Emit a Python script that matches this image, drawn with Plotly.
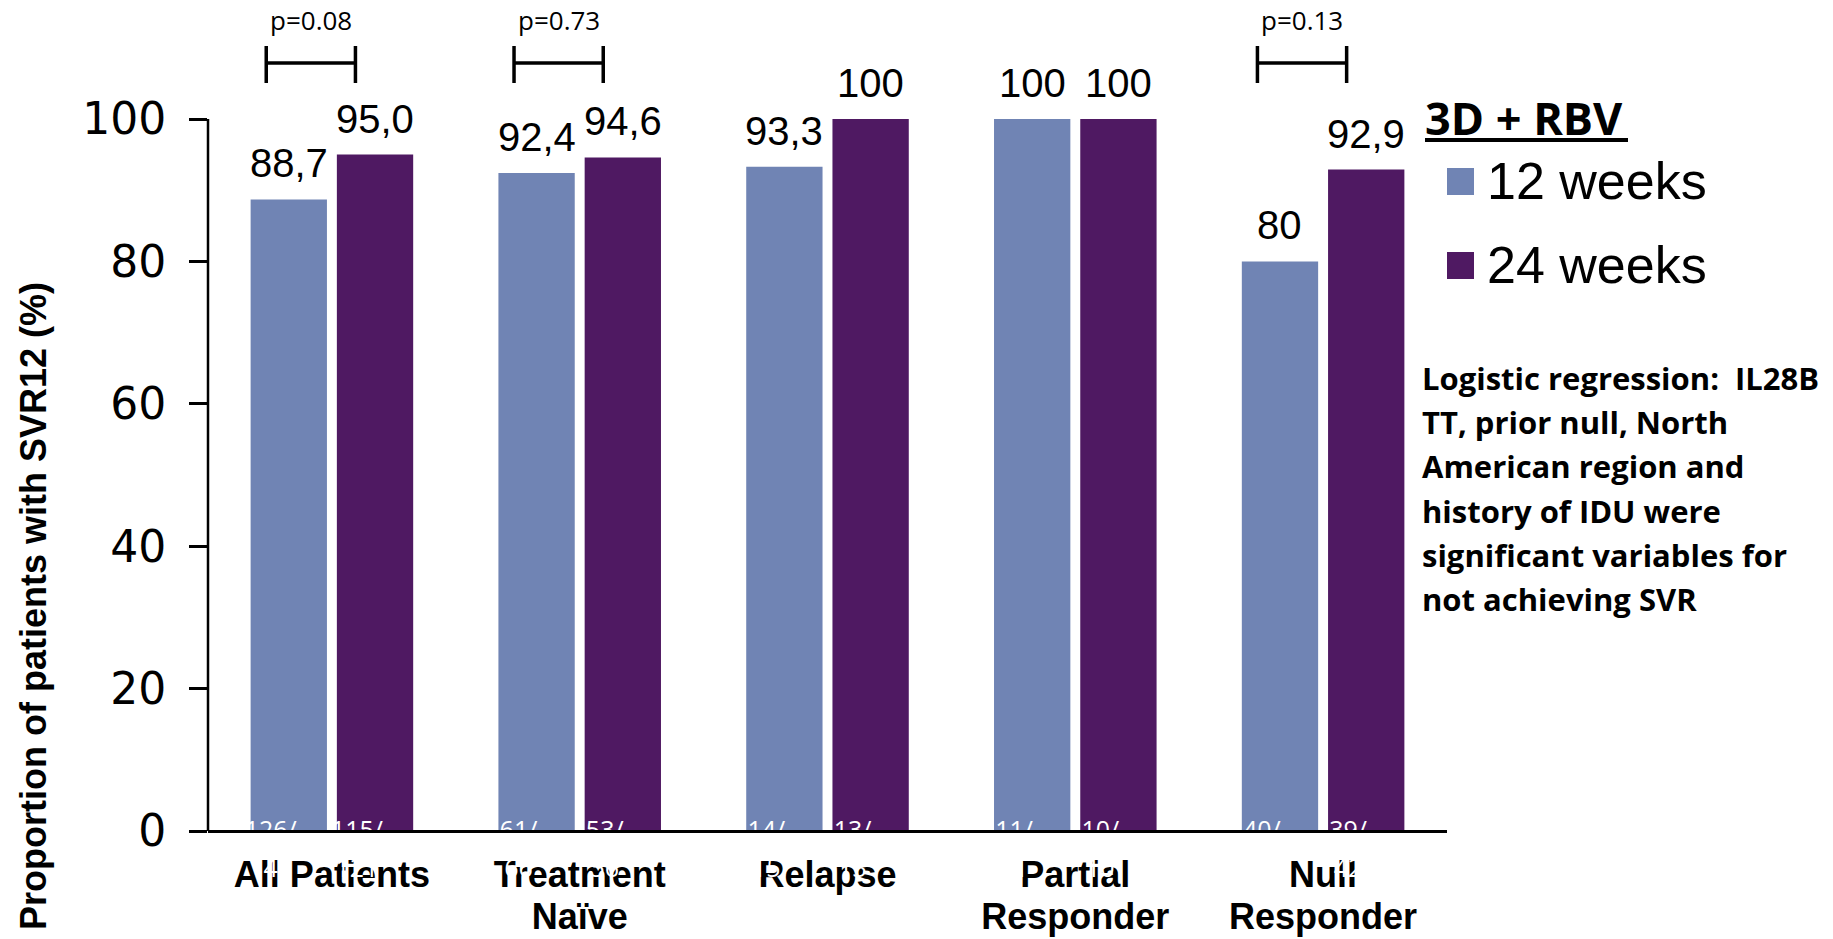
import plotly.graph_objects as go

# ---- data -------------------------------------------------------------
categories_line1 = ["All Patients", "Treatment", "Relapse", "Partial", "Null"]
categories_line2 = ["", "Naïve", "", "Responder", "Responder"]

labels_12w = ["88,7", "92,4", "93,3", "100", "80"]
labels_24w = ["95,0", "94,6", "100", "100", "92,9"]
values_12w = [float(s.replace(",", ".")) for s in labels_12w]
values_24w = [float(s.replace(",", ".")) for s in labels_24w]

n_12w = [126, 61, 14, 11, 40]
N_12w = [142, 66, 15, 11, 50]
n_24w = [115, 53, 13, 10, 39]
N_24w = [121, 56, 13, 10, 42]

p_groups = [0, 1, 4]
p_labels = ["p=0.08", "p=0.73", "p=0.13"]

y_ticks = [0, 20, 40, 60, 80, 100]

note_lines = [
    "Logistic regression:\u00a0\u00a0IL28B",
    "TT, prior null, North",
    "American region and",
    "history of IDU were",
    "significant variables for",
    "not achieving SVR",
]

# ---- styling / geometry ------------------------------------------------
W, H = 1833, 939
PL, PR, PT, PB = 208, 1447, 119, 831          # value-axis frame in pixels (0 at PB, 100 at PT)
BLUE = "#7084B4"
PURPLE = "#4F1962"
OFF, BW = 0.174, 0.308                         # bar offset / width (category units)
ARIAL = "Liberation Sans"
SANS = "Open Sans"

# the plotting area runs to the bottom edge so the category rows live inside it
Y_MIN = -100.0 * (H - PB) / (PB - PT)


def xp(px):
    return (px - PL) / (PR - PL)


def yp(py):
    return (H - py) / (H - PT)


def yd(py):
    return 100.0 * (PB - py) / (PB - PT)


idx = list(range(len(categories_line1)))
x12 = [i - OFF for i in idx]
x24 = [i + OFF for i in idx]

fig = go.Figure()

fig.add_trace(go.Bar(x=x12, y=values_12w, width=BW, marker=dict(color=BLUE, line=dict(width=0)),
                     name="12 weeks", showlegend=False, hoverinfo="skip"))
fig.add_trace(go.Bar(x=x24, y=values_24w, width=BW, marker=dict(color=PURPLE, line=dict(width=0)),
                     name="24 weeks", showlegend=False, hoverinfo="skip"))

# category labels (two rows)
for row_y, row in ((878, categories_line1), (920, categories_line2)):
    fig.add_trace(go.Scatter(x=idx, y=[yd(row_y)] * len(idx), mode="text",
                             text=[f"<b>{t}</b>" for t in row],
                             textposition="middle center",
                             textfont=dict(family=ARIAL, size=36, color="black"),
                             cliponaxis=False, showlegend=False, hoverinfo="skip"))

# patient counts in white at the foot of each bar
NSHIFT = -0.073
for xs, num, den in ((x12, n_12w, N_12w), (x24, n_24w, N_24w)):
    xs_n = [x + NSHIFT for x in xs]
    fig.add_trace(go.Scatter(x=xs_n, y=[yd(833)] * len(xs), mode="text",
                             text=[f"{n}/" for n in num], textposition="middle center",
                             textfont=dict(family=SANS, size=25, color="white"),
                             cliponaxis=False, showlegend=False, hoverinfo="skip"))
    fig.add_trace(go.Scatter(x=xs_n, y=[yd(871)] * len(xs), mode="text",
                             text=[f"{d}" for d in den], textposition="middle center",
                             textfont=dict(family=SANS, size=25, color="white"),
                             cliponaxis=False, showlegend=False, hoverinfo="skip"))

annotations = []
shapes = []

# value labels above bars
for xs, vals, labs in ((x12, values_12w, labels_12w), (x24, values_24w, labels_24w)):
    for x, v, t in zip(xs, vals, labs):
        annotations.append(dict(x=x, y=v, xref="x", yref="y", text=t, showarrow=False,
                                yanchor="bottom", xanchor="center", yshift=12,
                                font=dict(family=ARIAL, size=40, color="black")))

# value axis line (0 to 100 only)
shapes.append(dict(type="line", xref="paper", yref="y", x0=0, x1=0, y0=0, y1=100,
                   layer="above", line=dict(color="black", width=2.5)))

# p-value brackets
for g, t in zip(p_groups, p_labels):
    x0, x1 = g - 0.265, g + 0.095
    ymid, ylo, yhi = yp(63), yp(83), yp(46)
    line = dict(color="black", width=3.5)
    shapes.append(dict(type="line", xref="x", yref="paper", x0=x0, x1=x1, y0=ymid, y1=ymid, line=line))
    shapes.append(dict(type="line", xref="x", yref="paper", x0=x0, x1=x0, y0=ylo, y1=yhi, line=line))
    shapes.append(dict(type="line", xref="x", yref="paper", x0=x1, x1=x1, y0=ylo, y1=yhi, line=line))
    annotations.append(dict(x=(x0 + x1) / 2, y=yp(20), xref="x", yref="paper", text=t, showarrow=False,
                            xanchor="center", yanchor="middle",
                            font=dict(family=SANS, size=26, color="black")))

# y-axis title
annotations.append(dict(x=xp(33), y=yp(606), xref="paper", yref="paper",
                        text="<b>Proportion of patients with SVR12 (%)</b>", textangle=-90,
                        showarrow=False, xanchor="center", yanchor="middle",
                        font=dict(family=ARIAL, size=36, color="black")))

# legend block
annotations.append(dict(x=xp(1423), y=yp(117), xref="paper", yref="paper", text="<b>3D + RBV</b>",
                        showarrow=False, xanchor="left", yanchor="middle",
                        font=dict(family=SANS, size=45, color="black")))
shapes.append(dict(type="line", xref="paper", yref="paper", x0=xp(1425), x1=xp(1628),
                   y0=yp(140), y1=yp(140), line=dict(color="black", width=4)))
for (top, col, lab) in ((168, BLUE, "12 weeks"), (252, PURPLE, "24 weeks")):
    shapes.append(dict(type="rect", xref="paper", yref="paper", x0=xp(1447), x1=xp(1474),
                       y0=yp(top + 27), y1=yp(top), fillcolor=col, line=dict(width=0)))
    annotations.append(dict(x=xp(1485), y=yp(top + 13), xref="paper", yref="paper", text=lab,
                            showarrow=False, xanchor="left", yanchor="middle",
                            font=dict(family=ARIAL, size=52, color="black")))

# note text
for k, line in enumerate(note_lines):
    annotations.append(dict(x=xp(1420), y=yp(378 + 44.2 * k), xref="paper", yref="paper",
                            text=f"<b>{line}</b>", showarrow=False, xanchor="left", yanchor="middle",
                            font=dict(family=SANS, size=31, color="black")))

fig.update_layout(
    width=W, height=H,
    margin=dict(l=PL, r=W - PR, t=PT, b=0, pad=0),
    paper_bgcolor="white", plot_bgcolor="white",
    barmode="overlay", hovermode=False,
    shapes=shapes, annotations=annotations,
    xaxis=dict(range=[-0.5, 4.5], anchor="free", position=(H - PB) / (H - PT),
               showline=True, linewidth=3, linecolor="black",
               showticklabels=False, ticks="", showgrid=False, zeroline=False, fixedrange=True),
    yaxis=dict(range=[Y_MIN, 100], tickvals=y_ticks, ticks="outside", ticklen=18, tickwidth=2.5,
               tickcolor="black", showline=False,
               tickfont=dict(family="DejaVu Sans", size=44, color="black"),
               ticklabelstandoff=14, showgrid=False, zeroline=False, fixedrange=True),
)

fig.write_html("out.html")
